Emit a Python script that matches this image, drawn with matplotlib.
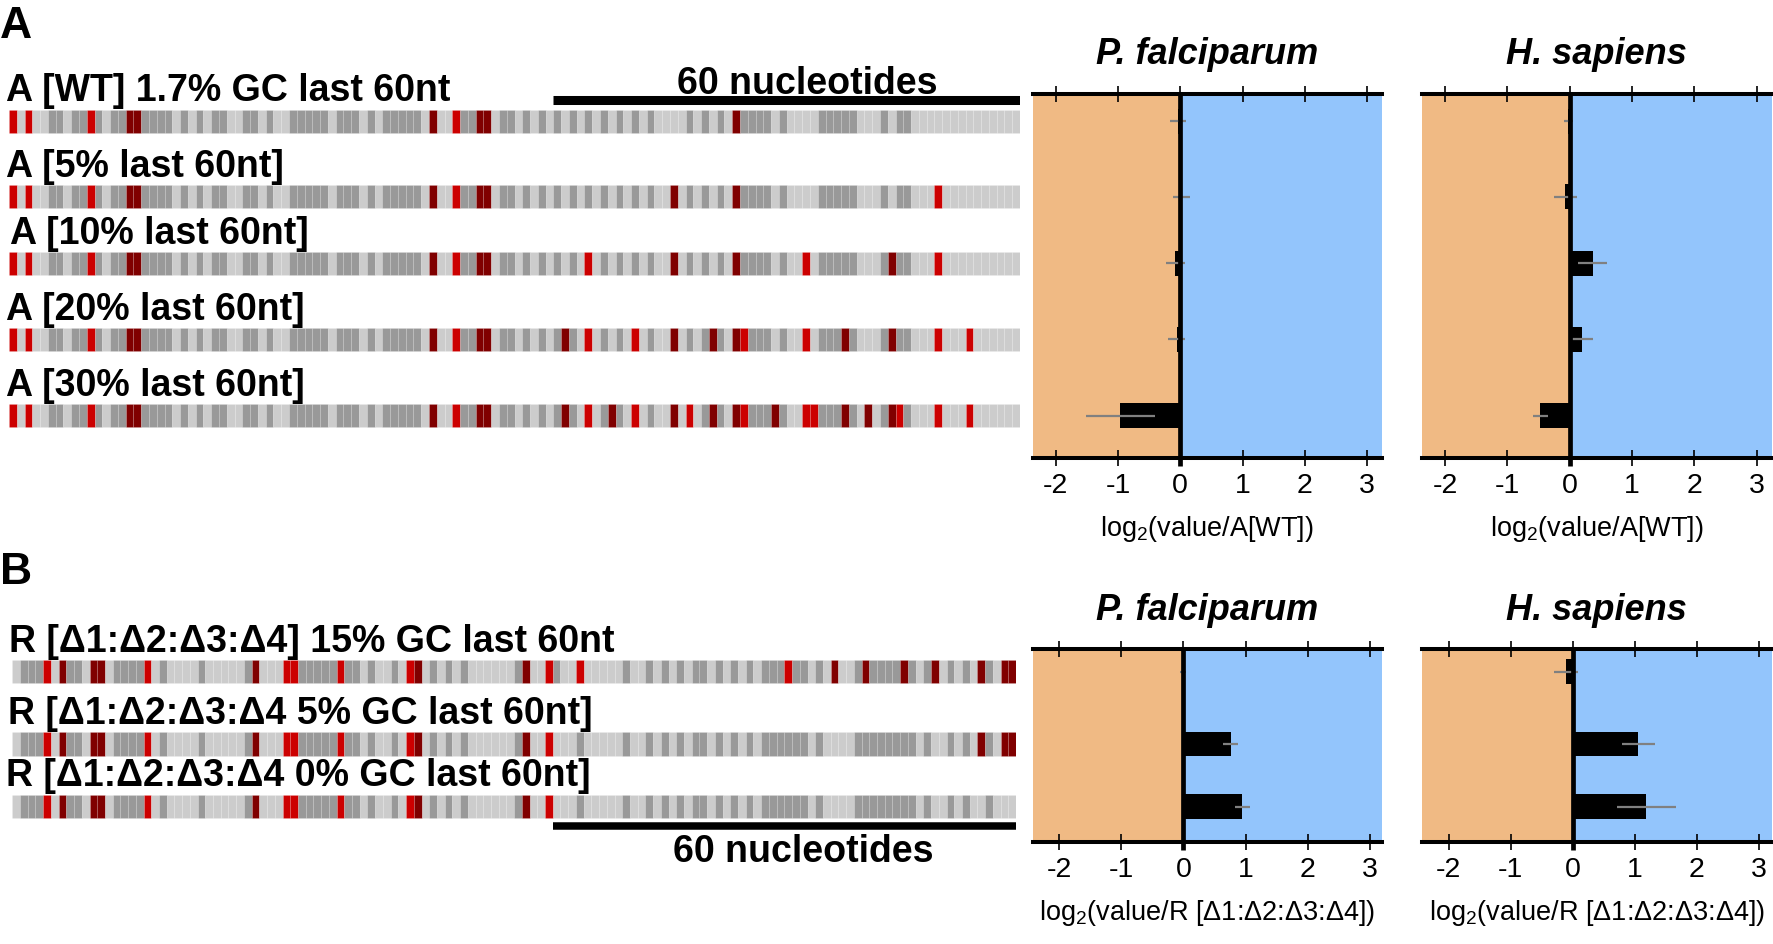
import numpy as np
import matplotlib
matplotlib.use('Agg')
import matplotlib.pyplot as plt
from matplotlib import font_manager

plt.rcParams['font.family'] = ['Liberation Sans', 'DejaVu Sans']
plt.rcParams['axes.unicode_minus'] = False

# axis text in the reference is a condensed face
names = {f.name for f in font_manager.fontManager.ttflist}
if 'Liberation Sans Narrow' in names:
    narrow, tick_fs, lab_fs = 'Liberation Sans Narrow', 22, 23
else:
    narrow, tick_fs, lab_fs = 'Liberation Sans', 20.5, 19.5
plt.rcParams['mathtext.fontset'] = 'custom'
plt.rcParams['mathtext.rm'] = narrow

# ---- data ----
labels_a = ['A [WT] 1.7% GC last 60nt', 'A [5% last 60nt]', 'A [10% last 60nt]',
            'A [20% last 60nt]', 'A [30% last 60nt]']
seqs_a = [
    'CACAATTATTCTATTGGTTTTATATATTAATTATAATTTTTATTTATATTTTTAGAACTTGGATTATATA'
    'TATATATATATATAAAATATATAGTTTTATAAAATTTTTAAATATTAAAAAAAAAAAAAA',
    'CACAATTATTCTATTGGTTTTATATATTAATTATAATTTTTATTTATATTTTTAGAACTTGGATTATATA'
    'TATATATATATATAAGATATATAGTTTTATAAAATTTTTAAATATTAAACAAAAAAAAAA',
    'CACAATTATTCTATTGGTTTTATATATTAATTATAATTTTTATTTATATTTTTAGAACTTGGATTATATA'
    'TATACATATATATAAGATATATAGTTTTATAACATTTTTAAATGTTAAACAAAAAAAAAA',
    'CACAATTATTCTATTGGTTTTATATATTAATTATAATTTTTATTTATATTTTTAGAACTTGGATTATATA'
    'TGTACATATACATAAGATATGTAGCTTTATAACATTTGTAAATGTTAAACAAACAAAAAA',
    'CACAATTATTCTATTGGTTTTATATATTAATTATAATTTTTATTTATATTTTTAGAACTTGGATTATATA'
    'TGTACATGTACATAAGACATGTAGCTTTGTAACCTTTGTAGATGCTAAACAAACAAAAAA',
]
labels_b = ['R [\u03941:\u03942:\u03943:\u03944] 15% GC last 60nt',
            'R [\u03941:\u03942:\u03943:\u03944 5% GC last 60nt]',
            'R [\u03941:\u03942:\u03943:\u03944 0% GC last 60nt]']
seqs_b = [
    'ATTTCAGTTAGGATTTTCATAAAATAAAAATGAAACCTTTTTCTTATAATACGATATATAAAAAATGAAC'
    'TAACAAAAATAATATATATTATATATATTTCTTATAGAATGTTTTGTATGATATAGTAGG',
    'ATTTCAGTTAGGATTTTCATAAAATAAAAATGAAACCTTTTTCTTATAATACGATATATAAAAAATGAAC'
    'AAATAAAAATAATATATATTATATATATTTTTTATAAAATTTTTTTTATAATATAGTAGG',
    'ATTTCAGTTAGGATTTTCATAAAATAAAAATGAAACCTTTTTCTTATAATACGATATATAAAAAATGAAC'
    'AAATAAAAATAATATATATTATATATATTTTTTATAAAATTTTTTTTATAATATAATAAA',
]
scale_nt = 60

ticks = [-2, -1, 0, 1, 2, 3]
pf_a = [-0.04, 0.02, -0.08, -0.06, -0.96]
pf_a_err = [0.13, 0.14, 0.15, 0.13, 0.55]
hs_a = [-0.02, -0.07, 0.37, 0.19, -0.47]
hs_a_err = [0.08, 0.18, 0.23, 0.19, 0.12]
pf_b = [-0.01, 0.76, 0.95]
pf_b_err = [0.05, 0.12, 0.125]
hs_b = [-0.11, 1.06, 1.19]
hs_b_err = [0.19, 0.27, 0.48]

# ---- layout (pixels) ----
W, H = 1773, 945
rows_a = [122.3, 197.7, 264.3, 340.3, 416.7]
rows_b = [672.7, 745.0, 807.7]
top_a, bot_a = 95.3, 459.0
top_b, bot_b = 650.0, 843.3
cell_h = 23.5
bar_h = 24.7
base_col = {'A': '#cccccc', 'T': '#999999', 'G': '#800000', 'C': '#cc0000'}
orange, blue = '#f0ba84', '#93c5fc'

fig = plt.figure(figsize=(W / 100, H / 100), dpi=100)


def box(x0, y0, x1, y1):
    return fig.add_axes([x0 / W, 1 - y1 / H, (x1 - x0) / W, (y1 - y0) / H])


def ftext(x, y, s, **kw):
    fig.text(x / W, 1 - y / H, s, **kw)


def draw_strips(ax, seqs, rows, top, bot, bar_y, bar_lw):
    n = len(seqs[0])
    for s, yc in zip(seqs, rows):
        ax.bar(np.arange(len(s)), cell_h, bottom=yc - cell_h / 2, width=1, align='edge',
               color=[base_col[b] for b in s], edgecolor=(1, 1, 1, 0.15), linewidth=0.5)
    ax.plot([n - scale_nt, n], [bar_y, bar_y], color='k', lw=bar_lw, solid_capstyle='butt')
    ax.set_xlim(0, n)
    ax.set_ylim(bot, top)
    ax.axis('off')


def draw_bars(ax, vals, errs, rows, top, bot, xlim):
    ax.set_xlim(*xlim)
    ax.set_ylim(bot, top)
    ax.axvspan(xlim[0], 0, color=orange, zorder=0, lw=0)
    ax.axvspan(0, xlim[1], color=blue, zorder=0, lw=0)
    ax.barh(rows, vals, height=bar_h, color='black', zorder=2)
    ax.errorbar(vals, rows, xerr=errs, fmt='none', ecolor='#808080', elinewidth=1.6,
                capsize=0, zorder=3)
    ax.plot([0, 0], [bot + 8, top], color='k', lw=3.4, clip_on=False, zorder=4,
            solid_capstyle='butt')
    for sp in ['left', 'right']:
        ax.spines[sp].set_visible(False)
    for sp in ['top', 'bottom']:
        ax.spines[sp].set_linewidth(2.9)
        ax.spines[sp].set_zorder(5)
    ax.set_yticks([])
    ax.set_xticks(ticks)
    ax.set_xticklabels([str(t) for t in ticks], fontfamily=narrow)
    ax.tick_params(axis='x', top=True, bottom=True, labeltop=False, direction='inout',
                   length=11.5, width=1.2, pad=4, labelsize=tick_fs)


# panel A sequences
ax = box(9, top_a, 1020, bot_a)
draw_strips(ax, seqs_a, rows_a, top_a, bot_a, 101.2, 6.5)
# panel B sequences
ax = box(12.3, top_b, 1016, bot_b)
draw_strips(ax, seqs_b, rows_b, top_b, bot_b, 826.5, 5.4)

ax = box(1032.7, top_a, 1382, bot_a)
draw_bars(ax, pf_a, pf_a_err, rows_a, top_a, bot_a, (-2.37, 3.24))
ax = box(1421.7, top_a, 1771.7, bot_a)
draw_bars(ax, hs_a, hs_a_err, rows_a, top_a, bot_a, (-2.375, 3.24))
ax = box(1032.7, top_b, 1382, bot_b)
draw_bars(ax, pf_b, pf_b_err, rows_b, top_b, bot_b, (-2.43, 3.2))
ax = box(1421.7, top_b, 1771.7, bot_b)
draw_bars(ax, hs_b, hs_b_err, rows_b, top_b, bot_b, (-2.435, 3.21))

# texts
bold = dict(fontsize=27, fontweight='bold', va='baseline', ha='left')
for lab, x, y in zip(labels_a, [6, 6, 10, 6, 6], [101, 177, 244, 320, 396]):
    ftext(x, y, lab, **bold)
for lab, x, y in zip(labels_b, [9, 8, 6], [652, 723.5, 786]):
    ftext(x, y, lab, **bold)
ftext(807, 94, '60 nucleotides', fontsize=27, fontweight='bold', va='baseline', ha='center')
ftext(803.5, 862.5, '60 nucleotides', fontsize=27, fontweight='bold', va='baseline', ha='center')
ftext(0, 37.5, 'A', fontsize=32, fontweight='bold', va='baseline', ha='left')
ftext(0, 584.5, 'B', fontsize=32, fontweight='bold', va='baseline', ha='left')

ttl = dict(fontsize=26, fontweight='bold', fontstyle='italic', va='baseline', ha='center')
ftext(1207.3, 64.5, 'P. falciparum', **ttl)
ftext(1596.7, 64.5, 'H. sapiens', **ttl)
ftext(1207.3, 620.5, 'P. falciparum', **ttl)
ftext(1596.7, 620.5, 'H. sapiens', **ttl)

xl = dict(fontsize=lab_fs, va='baseline', ha='center', fontfamily=narrow)
ftext(1207.3, bot_a + 77, '$\\mathrm{log}_2$(value/A[WT])', **xl)
ftext(1596.7, bot_a + 77, '$\\mathrm{log}_2$(value/A[WT])', **xl)
ftext(1207.3, bot_b + 77, '$\\mathrm{log}_2$(value/R [\u03941:\u03942:\u03943:\u03944])', **xl)
ftext(1596.7, bot_b + 77, '$\\mathrm{log}_2$(value/R [\u03941:\u03942:\u03943:\u03944])', **xl)

fig.savefig('out.png', dpi=100)
